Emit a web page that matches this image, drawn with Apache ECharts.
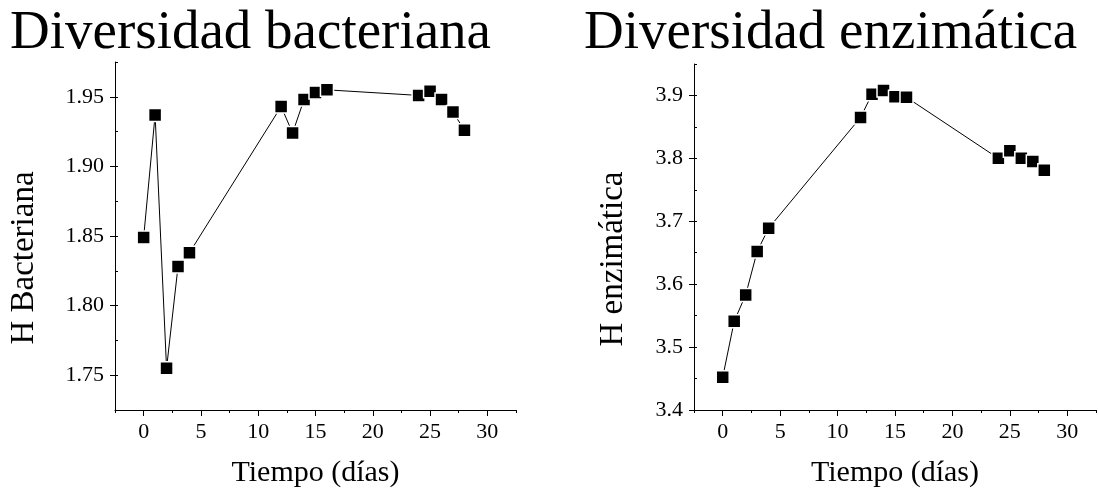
<!DOCTYPE html>
<html>
<head>
<meta charset="utf-8">
<script src="https://cdn.jsdelivr.net/npm/echarts@6/dist/echarts.min.js"></script>
<style>
html,body{margin:0;padding:0;background:#fff;}
#chart{width:1099px;height:493px;}
</style>
</head>
<body>
<div id="chart"></div>
<script>
// Data
const days = [0, 1, 2, 3, 4, 12, 13, 14, 15, 16, 24, 25, 26, 27, 28];
const hBacteriana = [1.849, 1.937, 1.755, 1.828, 1.838, 1.943, 1.924, 1.948, 1.953, 1.955, 1.951, 1.954, 1.948, 1.939, 1.926];
const hEnzimatica = [3.452, 3.541, 3.583, 3.652, 3.689, 3.865, 3.902, 3.908, 3.898, 3.897, 3.800, 3.812, 3.800, 3.795, 3.781];
const xTicks = [0, 5, 10, 15, 20, 25, 30];
const yTicksBact = [1.75, 1.80, 1.85, 1.90, 1.95];
const yTicksEnz = [3.4, 3.5, 3.6, 3.7, 3.8, 3.9];
const titles = ['Diversidad bacteriana', 'Diversidad enzimática'];
const xName = 'Tiempo (días)';
const yNames = ['H Bacteriana', 'H enzimática'];

const FONT = '"Liberation Serif", "DejaVu Serif", serif';
const black = '#000';

function pairs(ys) { return days.map((d, i) => [d, ys[i]]); }

const grids = [
  { left: 115, top: 62, width: 401, height: 348 },
  { left: 694, top: 64, width: 402, height: 347 }
];

const xAxes = [];
const yAxes = [];
[0, 1].forEach(g => {
  // main x axis
  xAxes.push({
    type: 'value', gridIndex: g, position: 'bottom', min: -2.5, max: 32.5,
    name: xName, nameLocation: 'middle', nameGap: 48,
    nameTextStyle: { fontFamily: FONT, fontSize: 30, color: black },
    axisLine: { show: true, onZero: false, lineStyle: { color: black, width: 1 } },
    axisTick: { show: true, length: 6, lineStyle: { color: black }, customValues: xTicks },
    axisLabel: { fontFamily: FONT, fontSize: 22, color: black, margin: 11, customValues: xTicks },
    splitLine: { show: false }
  });
  // minor x ticks
  xAxes.push({
    type: 'value', gridIndex: g, position: 'bottom', offset: 0, min: -2.5, max: 32.5, interval: 2.5,
    axisLine: { show: false, onZero: false },
    axisTick: { show: true, length: 3, lineStyle: { color: black } },
    axisLabel: { show: false },
    splitLine: { show: false }
  });
});

const yMain = [
  { min: 1.725, max: 1.975, ticks: yTicksBact, dec: 2, minorInt: 0.025, gap: 74 },
  { min: 3.4, max: 3.95, ticks: yTicksEnz, dec: 1, minorInt: 0.05, gap: 64 }
];
[0, 1].forEach(g => {
  const c = yMain[g];
  yAxes.push({
    type: 'value', gridIndex: g, position: 'left', min: c.min, max: c.max,
    name: yNames[g], nameLocation: 'middle', nameGap: c.gap, nameRotate: 90,
    nameTextStyle: { fontFamily: FONT, fontSize: 33, color: black, padding: [0, 44, 0, 0] },
    axisLine: { show: true, onZero: false, lineStyle: { color: black, width: 1 } },
    axisTick: { show: true, length: 5, lineStyle: { color: black }, customValues: c.ticks },
    axisLabel: { fontFamily: FONT, fontSize: 22, color: black, margin: 11, customValues: c.ticks,
      formatter: v => Number(v).toFixed(c.dec) },
    splitLine: { show: false }
  });
  yAxes.push({
    type: 'value', gridIndex: g, position: 'left', offset: 0, min: c.min, max: c.max, interval: c.minorInt,
    axisLine: { show: false, onZero: false },
    axisTick: { show: true, inside: true, length: 3, lineStyle: { color: black } },
    axisLabel: { show: false },
    splitLine: { show: false }
  });
});

function seriesFor(g, ys) {
  return {
    type: 'line', xAxisIndex: g * 2, yAxisIndex: g * 2,
    data: pairs(ys),
    symbol: 'rect', symbolSize: 13,
    lineStyle: { color: black, width: 1 },
    itemStyle: { color: black, borderColor: '#fff', borderWidth: 1.5 },
    emphasis: { disabled: true },
    animation: false
  };
}

const chart = echarts.init(document.getElementById('chart'), null, { renderer: 'canvas' });
chart.setOption({
  backgroundColor: '#fff',
  animation: false,
  title: [
    { text: titles[0], left: 10, top: 6, padding: 0,
      textStyle: { fontFamily: FONT, fontSize: 55, fontWeight: 'normal', color: black } },
    { text: titles[1], left: 584, top: 6, padding: 0,
      textStyle: { fontFamily: FONT, fontSize: 55, fontWeight: 'normal', color: black } }
  ],
  grid: grids,
  xAxis: xAxes,
  yAxis: yAxes,
  series: [seriesFor(0, hBacteriana), seriesFor(1, hEnzimatica)]
});
</script>
</body>
</html>
